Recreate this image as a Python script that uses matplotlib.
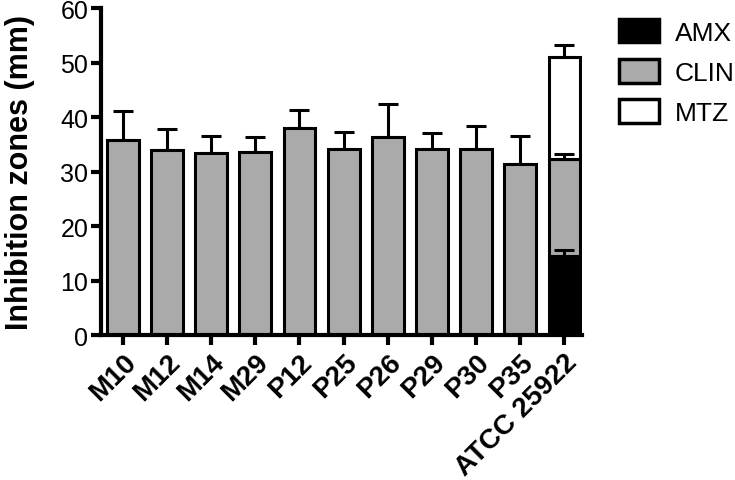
import matplotlib
matplotlib.use('Agg')
import matplotlib.pyplot as plt
import numpy as np

plt.rcParams['font.family'] = ['Liberation Sans', 'DejaVu Sans']

# isolates
strains = ['M10', 'M12', 'M14', 'M29', 'P12', 'P25', 'P26', 'P29', 'P30', 'P35']
clin = [35.8, 33.9, 33.4, 33.6, 38.0, 34.1, 36.3, 34.1, 34.1, 31.4]
clin_err = [5.3, 3.9, 3.1, 2.7, 3.3, 3.1, 6.1, 3.0, 4.2, 5.1]

# reference strain (stacked)
ref_label = 'ATCC 25922'
ref_amx, ref_amx_err = 14.5, 1.1
ref_clin, ref_clin_err = 17.8, 0.9
ref_mtz, ref_mtz_err = 18.7, 2.2

labels = strains + [ref_label]

fig = plt.figure(figsize=(7.35, 4.81), dpi=100)
ax = fig.add_axes([0.137, 0.301, 0.655, 0.680])

w = 0.72
lw = 2.2
x = np.arange(len(strains))
xr = len(strains)

ekw = dict(fmt='none', ecolor='black', elinewidth=lw, capsize=7, capthick=lw)

# isolate bars with upward error bars
ax.bar(x, clin, width=w, color='#aaaaaa', edgecolor='black', linewidth=lw, zorder=2)
ax.errorbar(x, clin, yerr=[np.zeros(len(clin)), clin_err], zorder=1, **ekw)

# stacked bar for reference strain
ax.bar(xr, ref_amx, width=w, color='black', edgecolor='black', linewidth=lw, zorder=2, label='AMX')
ax.bar(xr, ref_clin, bottom=ref_amx, width=w, color='#aaaaaa', edgecolor='black', linewidth=lw, zorder=2, label='CLIN')
ax.bar(xr, ref_mtz, bottom=ref_amx + ref_clin, width=w, color='white', edgecolor='black', linewidth=lw, zorder=2, label='MTZ')
tops = [ref_amx, ref_amx + ref_clin, ref_amx + ref_clin + ref_mtz]
errs = [ref_amx_err, ref_clin_err, ref_mtz_err]
ax.errorbar([xr] * 3, tops, yerr=[[0, 0, 0], errs], zorder=3, **ekw)

ax.set_xlim(-0.5, xr + 0.4)
ax.set_ylim(0, 60)
ax.set_yticks(range(0, 61, 10))
ax.set_xticks(range(len(labels)))
ax.set_xticklabels(labels, rotation=45, ha='right', rotation_mode='anchor', fontweight='bold', fontsize=20)
ax.tick_params(axis='y', labelsize=18, width=3, length=7, pad=2)
ax.tick_params(axis='x', width=3, length=7, pad=3)
ax.set_ylabel('Inhibition zones (mm)', fontsize=22, fontweight='bold', labelpad=18)

for s in ['top', 'right']:
    ax.spines[s].set_visible(False)
for s in ['left', 'bottom']:
    ax.spines[s].set_linewidth(3)

leg = ax.legend(loc='upper left', bbox_to_anchor=(1.055, 1.0), frameon=False, fontsize=19,
                handlelength=1.5, handleheight=1.0, labelspacing=0.55, handletextpad=0.6,
                borderaxespad=0)
for p in leg.get_patches():
    p.set_linewidth(2.5)

plt.savefig('out.png', dpi=100)
